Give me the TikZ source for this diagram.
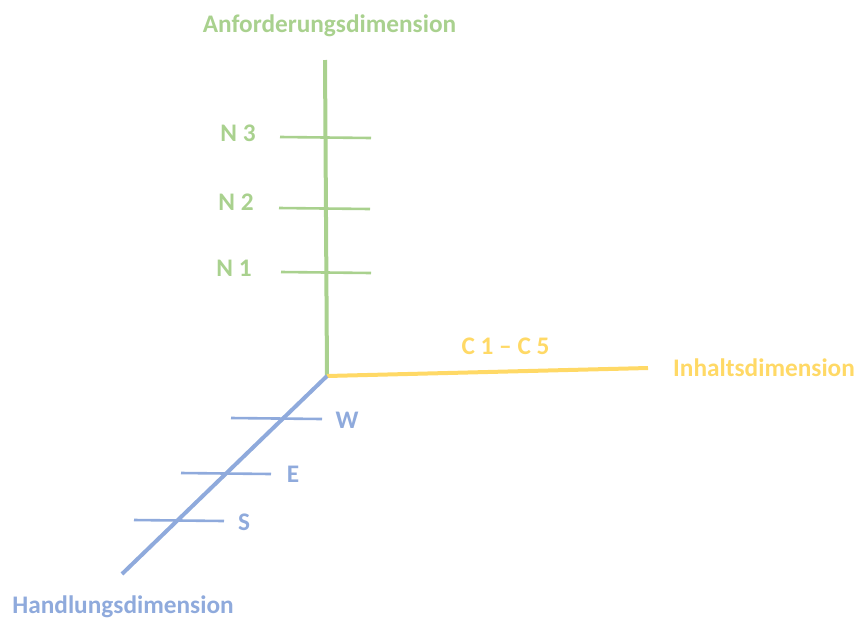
\documentclass[tikz,border=0pt]{standalone}
\usepackage{fontspec}
\setmainfont{Carlito}
\definecolor{agreen}{HTML}{A9D18E}
\definecolor{ayellow}{HTML}{FFD966}
\definecolor{ablue}{HTML}{8FAADC}
\begin{document}
\begin{tikzpicture}[x=1pt,y=-1pt,
  lbl/.style={font=\fontsize{25.3}{30}\selectfont\bfseries, inner sep=0pt, anchor=center},
  axis/.style={line width=4pt},
  tick/.style={line width=2.6pt}]
\useasboundingbox (0,0) rectangle (858,619);
% coordinates
\coordinate (O) at (327,376);
\coordinate (Gtop) at (325,60);
\coordinate (Yend) at (648,368);
\coordinate (Bend) at (122,574);
% green axis
\draw[axis, agreen] (O) -- (Gtop);
\coordinate (n3a) at (280,137); \coordinate (n3b) at (371,138);
\coordinate (n2a) at (279,208); \coordinate (n2b) at (370,209);
\coordinate (n1a) at (281,272); \coordinate (n1b) at (371,273);
\draw[tick, agreen] (n3a) -- (n3b);
\draw[tick, agreen] (n2a) -- (n2b);
\draw[tick, agreen] (n1a) -- (n1b);
\node[lbl, text=agreen] (tA) at (329.5,26) {Anforderungsdimension};
\node[lbl, text=agreen] (lN3) at (238,133) {N 3};
\node[lbl, text=agreen] (lN2) at (236,202) {N 2};
\node[lbl, text=agreen] (lN1) at (234,268) {N 1};
% yellow axis
\draw[axis, ayellow] (O) -- (Yend);
\node[lbl, text=ayellow] (lC) at (505.5,346) {C 1 – C 5};
\node[lbl, text=ayellow] (tI) at (764,368) {Inhaltsdimension};
% blue axis
\draw[axis, ablue] (O) -- (Bend);
\coordinate (wa) at (231,418); \coordinate (wb) at (322,419);
\coordinate (ea) at (181,473); \coordinate (eb) at (271,474);
\coordinate (sa) at (134,520); \coordinate (sb) at (224,521);
\draw[tick, ablue] (wa) -- (wb);
\draw[tick, ablue] (ea) -- (eb);
\draw[tick, ablue] (sa) -- (sb);
\node[lbl, text=ablue] (lW) at (347,420) {W};
\node[lbl, text=ablue] (lE) at (293,474) {E};
\node[lbl, text=ablue] (lS) at (244,522) {S};
\node[lbl, text=ablue] (tH) at (123,607) {Handlungsdimension};
\end{tikzpicture}
\end{document}
